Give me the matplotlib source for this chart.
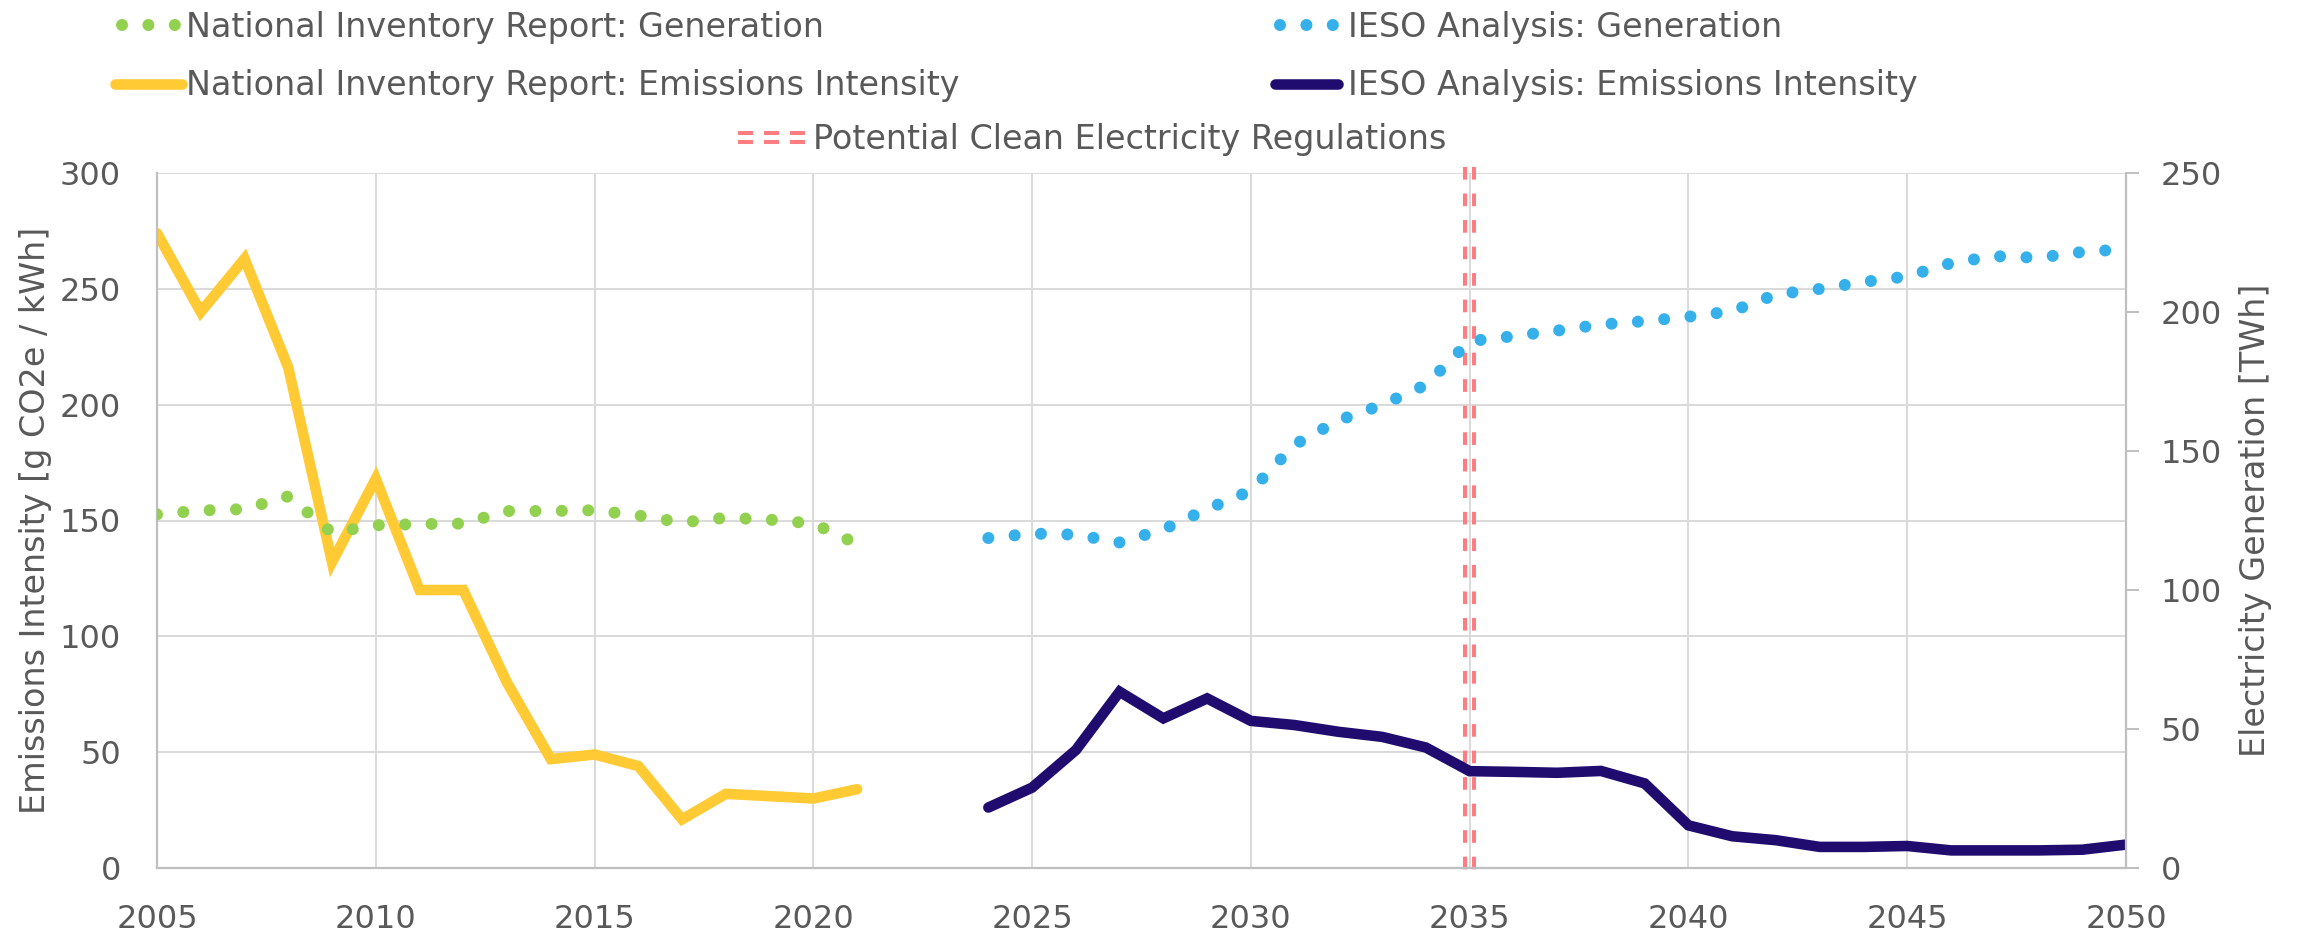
import matplotlib
matplotlib.use('Agg')
from matplotlib import pyplot as plt
from matplotlib.lines import Line2D
from matplotlib.legend_handler import HandlerBase
from matplotlib.transforms import ScaledTranslation

# National Inventory Report (historical)
nir_years = list(range(2005, 2022))
nir_intensity = [274, 240, 263, 216, 132, 168, 120, 120, 80, 47, 49, 44, 21, 32, 31, 30, 34]
nir_generation = [127.2, 128.6, 129.1, 133.7, 120.6, 123.3, 123.7, 123.9, 128.4, 128.4,
                  128.7, 126.8, 124.3, 126.0, 125.3, 123.9, 116.6]

# IESO analysis (projection)
ieso_years = list(range(2024, 2051))
ieso_intensity = [26.1, 34.7, 50.9, 76.1, 64.6, 73.2, 63.5, 61.7, 58.8, 56.6, 52.0, 41.8,
                  41.5, 41.1, 41.9, 36.5, 18.4, 13.7, 12.0, 9.1, 9.1, 9.5, 7.6, 7.6, 7.6,
                  7.9, 10.1]
ieso_generation = [118.7, 120.3, 119.9, 117.1, 121.8, 129.1, 135.7, 152.3, 161.0, 166.6,
                   173.8, 189.5, 191.3, 193.3, 195.5, 196.7, 198.3, 200.3, 206.3, 208.3,
                   210.8, 212.8, 217.6, 220.1, 219.5, 221.6, 222.6]

regulation_year = 2035

YELLOW = '#FFCA33'
NAVY = '#200C6E'
GREEN = '#92D050'
BLUE = '#36B0EA'
RED = '#FF7C80'
TEXT = '#595959'
GRID = '#D9D9D9'
AXIS = '#BFBFBF'

plt.rcParams['font.family'] = ['DejaVu Sans']
plt.rcParams['lines.scale_dashes'] = False

W, H = 2302, 938
fig = plt.figure(figsize=(W / 100, H / 100), dpi=100)
ax = fig.add_axes([157 / W, (H - 868) / H, (2126 - 157) / W, (868 - 173) / H])
ax2 = ax.twinx()


class DoubleDash(HandlerBase):
    # excel style "double" compound dashed line for the legend
    def create_artists(self, legend, orig_handle, xdescent, ydescent,
                       width, height, fontsize, trans):
        y = height / 2 - ydescent
        out = []
        for dy in (-3.2, 3.2):
            ln = Line2D([-xdescent, -xdescent + width], [y + dy, y + dy],
                        color=RED, lw=2.9, linestyle=(0, (10.8, 7.9)),
                        solid_capstyle='butt', dash_capstyle='butt')
            ln.set_transform(trans)
            out.append(ln)
        return out


# regulation marker, double dashed line
reg_lines = []
for dx in (-3.1, 3.1):
    tr = ax.get_xaxis_transform() + ScaledTranslation(dx / 72, 0, fig.dpi_scale_trans)
    ln, = ax.plot([regulation_year, regulation_year], [1.009, -0.009], transform=tr,
                  color=RED, lw=2.9, linestyle=(0, (9.1, 10)), dash_capstyle='butt',
                  clip_on=False, zorder=1.8)
    reg_lines.append(ln)

nir_ei, = ax.plot(nir_years, nir_intensity, color=YELLOW, lw=7.6,
                  solid_capstyle='round', solid_joinstyle='miter', zorder=2)
ieso_ei, = ax.plot(ieso_years, ieso_intensity, color=NAVY, lw=7.6,
                   solid_capstyle='round', solid_joinstyle='miter', zorder=2)

dots = (0, (0.01, 19))
nir_gen, = ax2.plot(nir_years, nir_generation, color=GREEN, lw=8.7, linestyle=dots,
                    dash_capstyle='round')
ieso_gen, = ax2.plot(ieso_years, ieso_generation, color=BLUE, lw=8.7, linestyle=dots,
                     dash_capstyle='round')

ax.set_xlim(2005, 2050)
ax.set_ylim(0, 300)
ax.set_xticks(range(2005, 2051, 5))
ax.set_yticks(range(0, 301, 50))
ax.grid(True, color=GRID, lw=1.4)
ax.set_axisbelow(True)
ax.tick_params(axis='both', length=0, labelsize=23, labelcolor=TEXT)
ax.tick_params(axis='x', pad=26)
ax.tick_params(axis='y', pad=26)

ax2.set_ylim(0, 250)
ax2.set_yticks(range(0, 251, 50))
ax2.tick_params(axis='y', length=9, width=1.4, color=AXIS, direction='out',
                labelsize=23, labelcolor=TEXT, pad=16)

for a in (ax, ax2):
    for s in a.spines.values():
        s.set_visible(False)
ax.spines['left'].set_visible(True)
ax.spines['bottom'].set_visible(True)
ax2.spines['right'].set_visible(True)
for s in (ax.spines['left'], ax.spines['bottom'], ax2.spines['right']):
    s.set_color(AXIS)
    s.set_linewidth(1.6)

ax.set_ylabel('Emissions Intensity [g CO2e / kWh]', fontsize=24, color=TEXT)
ax.yaxis.set_label_coords(-0.0532, 0.5)
ax2.set_ylabel('Electricity Generation [TWh]', fontsize=24, color=TEXT)
ax2.yaxis.set_label_coords(1.0575, 0.5)


def add_entry(handle, label, x, y, hlen, pad, hmap=None):
    leg = fig.legend([handle], [label], loc='center left',
                     bbox_to_anchor=(x / W, (H - y) / H), bbox_transform=fig.transFigure,
                     frameon=False, borderpad=0, borderaxespad=0, handlelength=hlen,
                     handletextpad=pad, fontsize=24, labelcolor=TEXT, handler_map=hmap)
    return leg


add_entry(nir_gen, 'National Inventory Report: Generation', 122, 27, 1.6, 0.33)
add_entry(nir_ei, 'National Inventory Report: Emissions Intensity', 115, 86, 2.0, 0.12)
add_entry(ieso_gen, 'IESO Analysis: Generation', 1280, 27, 1.6, 0.45)
add_entry(ieso_ei, 'IESO Analysis: Emissions Intensity', 1275, 86, 1.89, 0.3)
add_entry(reg_lines[0], 'Potential Clean Electricity Regulations', 738, 140, 2.1, 0.16,
          {reg_lines[0]: DoubleDash()})

fig.savefig('out.png', dpi=100)
